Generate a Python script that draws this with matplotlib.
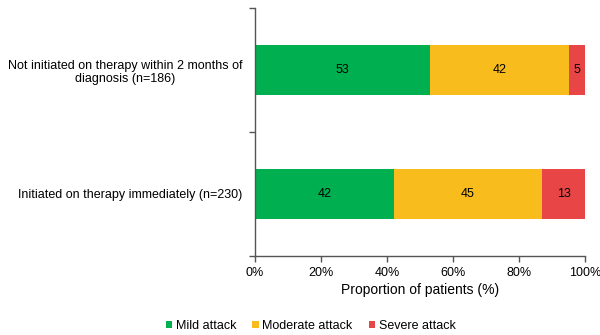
import matplotlib
matplotlib.use("Agg")
import matplotlib.pyplot as plt
from matplotlib.patches import Patch

plt.rcParams['font.family'] = ['Liberation Sans', 'DejaVu Sans']

groups = ["Initiated on therapy immediately (n=230)",
          "Not initiated on therapy within 2 months of\ndiagnosis (n=186)"]
severity = ["Mild attack", "Moderate attack", "Severe attack"]
values = {
    "Mild attack": [42, 53],
    "Moderate attack": [45, 42],
    "Severe attack": [13, 5],
}
colors = ["#00B050", "#F8BD1C", "#E84646"]
xticks = [0, 20, 40, 60, 80, 100]
xtick_labels = ["0%", "20%", "40%", "60%", "80%", "100%"]

fig = plt.figure(figsize=(6.0, 3.35), dpi=100)
ax = fig.add_axes([0.425, 0.236, 0.55, 0.740])

ypos = list(range(len(groups)))
left = [0] * len(groups)
for name, col in zip(severity, colors):
    vals = values[name]
    ax.barh(ypos, vals, left=left, height=0.4, color=col, edgecolor='none')
    for y, l, v in zip(ypos, left, vals):
        ax.text(l + v / 2, y, str(v), ha='center', va='center', fontsize=9, color='#000000')
    left = [a + b for a, b in zip(left, vals)]

ax.set_xlim(0, 100)
ax.set_ylim(-0.5, 1.5)
ax.set_xticks(xticks)
ax.set_xticklabels(xtick_labels, fontsize=9)
ax.set_yticks(ypos)
ax.set_yticklabels(groups, fontsize=9, ha='right', multialignment='center')
ax.tick_params(axis='y', which='major', length=0, pad=9)
ax.set_yticks([-0.5, 0.5, 1.5], minor=True)
ax.tick_params(axis='y', which='minor', length=4, color='#555555', width=1)
ax.tick_params(axis='x', length=4, color='#555555', width=1, pad=4)
for s in ['top', 'right']:
    ax.spines[s].set_visible(False)
for s in ['left', 'bottom']:
    ax.spines[s].set_color('#555555')
    ax.spines[s].set_linewidth(1)
ax.set_xlabel("Proportion of patients (%)", fontsize=10, labelpad=3)

handles = [Patch(facecolor=c, edgecolor='none', label=n) for n, c in zip(severity, colors)]
fig.legend(handles=handles, loc='center', bbox_to_anchor=(0.518, 0.028), ncol=3,
           frameon=False, fontsize=9, handlelength=0.5, handleheight=0.5,
           handletextpad=0.3, columnspacing=1.3)

fig.savefig("out.png", dpi=100)
